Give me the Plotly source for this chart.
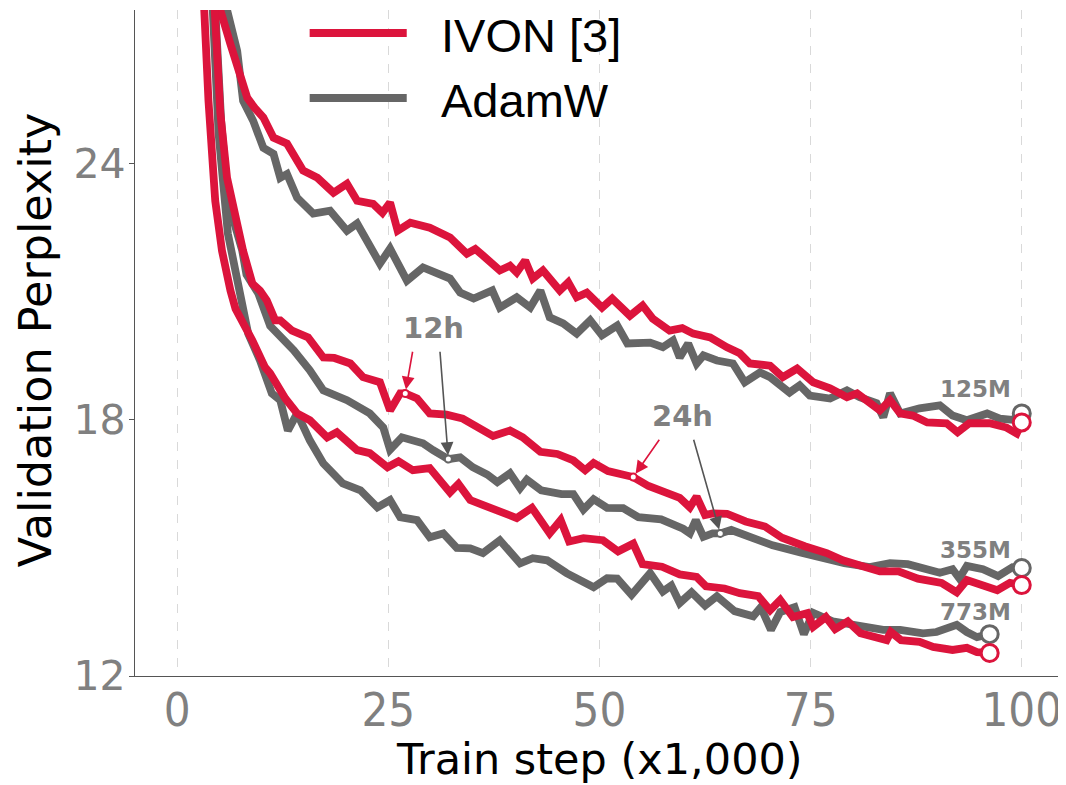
import plotly.graph_objects as go

# ---------------- data ----------------
ivon_125_x = [4.2, 5.1, 6.3, 7.5, 8.3, 9.2, 10.2, 11.4, 13.0, 14.9, 16.6, 18.5, 20.1, 21.3, 23.2, 24.3, 25.2, 26.1,
              27.6, 29.9, 31.5, 32.3, 34.3, 35.3, 36.2, 38.2, 39.4, 40.2, 41.2, 42.1, 43.3, 45.3, 46.3, 47.3, 48.5,
              50.3, 51.5, 53.6, 55.1, 56.3, 58.3, 59.8, 61.1, 63.1, 65.1, 66.6, 67.8, 70.2, 71.7, 73.4, 75.3, 77.3,
              79.3, 80.5, 83.2, 84.4, 85.6, 87.1, 88.8, 91.1, 92.4, 93.8, 96.2, 98.2, 99.4, 100]
ivon_125_y = [30.0, 27.6, 26.8, 26.0, 25.54, 25.3, 25.08, 24.61, 24.47, 23.84, 23.67, 23.32, 23.53, 23.13, 23.06, 22.85,
              23.09, 22.43, 22.62, 22.50, 22.36, 22.27, 21.89, 22.0, 21.85, 21.5, 21.61, 21.45, 21.73, 21.31, 21.5,
              21.03, 21.22, 20.87, 20.98, 20.63, 20.84, 20.44, 20.68, 20.37, 20.09, 20.15, 20.02, 19.93, 19.70, 19.56,
              19.32, 19.27, 19.0, 19.2, 18.88, 18.74, 18.53, 18.62, 18.22, 18.46, 18.15, 18.1, 17.94, 17.92, 17.71,
              17.92, 17.92, 17.82, 17.68, 17.94]

adamw_125_x = [5.0, 5.9, 7.1, 7.8, 9.0, 10.2, 11.4, 12.2, 13.0, 14.2, 16.1, 18.1, 20.1, 21.3, 24.0, 25.2, 27.2, 29.1,
               30.8, 32.3, 33.5, 35.1, 37.3, 38.2, 40.2, 41.8, 43.0, 44.1, 45.7, 47.3, 48.9, 50.3, 52.1, 53.3, 56.0,
               57.5, 58.7, 59.5, 60.5, 61.5, 62.3, 63.9, 65.8, 67.2, 69.0, 70.2, 72.5, 73.7, 74.9, 77.3, 79.3, 80.8,
               82.8, 83.6, 84.4, 85.6, 87.9, 90.3, 91.8, 93.5, 95.9, 97.4, 98.9, 100]
adamw_125_y = [30.0, 27.6, 26.64, 25.47, 25.0, 24.37, 24.23, 23.67, 23.76, 23.2, 22.83, 22.9, 22.43, 22.6, 21.66, 22.01,
               21.26, 21.57, 21.43, 21.31, 20.98, 20.84, 21.03, 20.63, 20.87, 20.63, 21.03, 20.40, 20.26, 20.02, 20.33,
               19.98, 20.21, 19.79, 19.81, 19.70, 19.86, 19.46, 19.79, 19.32, 19.51, 19.39, 19.32, 18.88, 19.11, 19.0,
               18.64, 18.81, 18.57, 18.50, 18.69, 18.53, 18.39, 18.06, 18.62, 18.15, 18.27, 18.34, 18.1, 17.99, 18.15,
               18.03, 18.0, 18.15]

ivon_355_x = [3.5, 4.4, 5.1, 5.9, 7.2, 7.8, 8.9, 9.8, 10.6, 11.6, 12.2, 13.6, 15.5, 17.3, 18.6, 20.5, 22.0, 24.0, 25.2,
              26.4, 27.0, 28.4, 29.9, 31.9, 33.8, 35.5, 37.4, 39.4, 40.9, 43.0, 45.0, 46.9, 48.3, 49.3, 51.0, 54.0,
              55.8, 57.8, 59.5, 60.7, 61.5, 62.5, 63.4, 65.1, 67.3, 69.6, 71.6, 74.3, 76.9, 78.8, 81.2, 83.2, 85.4,
              87.7, 90.5, 92.3, 93.5, 95.5, 97.1, 98.6, 100]
ivon_355_y = [31.0, 27.6, 25.2, 23.67, 22.36, 21.96, 21.19, 21.03, 20.8, 20.33, 20.33, 20.09, 19.93, 19.46, 19.45, 19.32,
              19.0, 18.88, 18.22, 18.62, 18.62, 18.5, 18.15, 18.12, 18.03, 17.82, 17.62, 17.75, 17.59, 17.25, 17.2,
              17.05, 16.82, 16.99, 16.8, 16.66, 16.45, 16.3, 16.17, 15.95, 16.2, 15.77, 15.81, 15.8, 15.62, 15.5,
              15.24, 15.04, 14.88, 14.71, 14.55, 14.45, 14.45, 14.28, 14.18, 13.96, 14.25, 14.12, 14.01, 14.18, 14.13]

adamw_355_x = [3.6, 4.5, 5.2, 6.0, 7.7, 8.2, 9.6, 11.0, 12.8, 13.8, 15.7, 17.3, 20.1, 22.8, 24.4, 25.2, 26.6, 28.1,
               29.1, 30.3, 32.1, 33.5, 35.0, 36.7, 37.9, 39.4, 40.6, 41.4, 43.1, 45.5, 46.9, 48.1, 49.3, 50.9, 52.8,
               54.6, 57.3, 59.9, 60.7, 61.4, 62.3, 63.4, 64.3, 65.6, 67.8, 70.5, 73.9, 76.5, 79.0, 82.0, 84.4, 86.5,
               88.3, 90.3, 91.8, 92.6, 93.5, 95.4, 97.2, 98.9, 100]
adamw_355_y = [31.0, 27.6, 25.0, 23.13, 21.96, 21.4, 20.96, 20.2, 19.86, 19.63, 19.16, 18.69, 18.46, 18.15, 17.82, 17.3,
               17.59, 17.5, 17.45, 17.29, 17.08, 17.12, 16.89, 16.72, 16.54, 16.75, 16.4, 16.6, 16.35, 16.26, 16.26,
               15.9, 16.14, 15.94, 15.93, 15.72, 15.67, 15.45, 15.34, 15.65, 15.26, 15.34, 15.34, 15.42, 15.25, 15.06,
               14.89, 14.77, 14.64, 14.55, 14.64, 14.62, 14.52, 14.42, 14.5, 14.29, 14.58, 14.5, 14.34, 14.55, 14.53]

ivon_773_x = [2.4, 3.1, 3.7, 4.5, 5.3, 6.3, 6.9, 8.9, 10.4, 11.0, 12.8, 14.2, 15.7, 17.75, 18.9, 21.3, 22.8, 24.9, 26.2,
              27.9, 29.9, 32.3, 33.3, 34.7, 36.2, 37.8, 40.2, 42.0, 44.1, 45.4, 46.4, 48.1, 50.4, 52.2, 54.0, 55.1,
              57.4, 59.5, 61.5, 62.6, 64.8, 66.6, 68.8, 70.2, 71.4, 72.9, 74.6, 75.3, 76.8, 77.9, 79.4, 80.9, 82.8,
              84.0, 84.5, 85.7, 87.9, 89.5, 91.8, 93.5, 94.7, 96.2]
ivon_773_y = [31.0, 27.6, 25.47, 23.13, 21.96, 21.03, 20.6, 19.86, 19.23, 19.09, 18.5, 18.15, 17.99, 17.59, 17.71, 17.29,
              17.22, 16.89, 17.03, 16.82, 16.87, 16.3, 16.5, 16.12, 16.0, 15.9, 15.7, 15.94, 15.34, 15.65, 15.15, 15.23,
              15.18, 14.92, 15.1, 14.62, 14.56, 14.38, 14.32, 14.1, 14.05, 13.94, 13.87, 13.54, 13.78, 13.38, 13.47,
              13.15, 13.38, 13.1, 13.28, 13.0, 12.91, 12.84, 13.03, 12.84, 12.8, 12.68, 12.61, 12.66, 12.56, 12.54]

adamw_773_x = [3.4, 4.2, 4.9, 6.0, 7.5, 8.4, 9.8, 11.2, 12.2, 13.1, 14.2, 15.7, 17.3, 19.6, 21.7, 23.7, 25.2, 26.4, 28.4,
               29.9, 31.5, 33.1, 34.7, 36.2, 38.2, 40.6, 42.1, 43.8, 46.1, 49.3, 50.9, 52.1, 53.8, 56.0, 57.5, 58.5,
               59.5, 60.9, 62.5, 63.9, 66.0, 68.2, 69.1, 70.3, 71.4, 73.1, 74.2, 75.3, 77.6, 81.2, 83.6, 85.6, 88.3,
               89.9, 92.3, 93.5, 94.7, 96.2]
adamw_773_y = [31.0, 27.6, 24.7, 22.36, 20.96, 20.02, 19.39, 18.62, 18.46, 17.75, 18.15, 17.52, 16.98, 16.51, 16.35,
               15.95, 16.12, 15.72, 15.65, 15.25, 15.34, 15.0, 14.99, 14.88, 15.18, 14.64, 14.76, 14.71, 14.41, 14.08,
               14.29, 14.28, 13.9, 14.41, 13.98, 14.12, 13.71, 13.96, 13.65, 13.87, 13.52, 13.4, 13.61, 13.08, 13.5,
               13.61, 12.98, 13.48, 13.28, 13.17, 13.08, 13.08, 13.0, 13.03, 13.2, 13.03, 12.91, 12.98]

model_labels = ["125M", "355M", "773M"]
x_ticks = [0, 25, 50, 75, 100]
y_ticks = [12, 18, 24]
# training steps (x1,000) reached after 12h / 24h of wall-clock time on the 355M model
time_marks = {"12h": {"ivon": 27.0, "adamw": 32.1}, "24h": {"ivon": 54.0, "adamw": 64.3}}

RED = "#DC143C"
GRAY = "#666666"
LABEL_GRAY = "#808080"
FONT = "DejaVu Sans"

series = {
    "adamw": [(adamw_125_x, adamw_125_y), (adamw_355_x, adamw_355_y), (adamw_773_x, adamw_773_y)],
    "ivon": [(ivon_125_x, ivon_125_y), (ivon_355_x, ivon_355_y), (ivon_773_x, ivon_773_y)],
}
colors = {"adamw": GRAY, "ivon": RED}

fig = go.Figure()

# lines (AdamW below, IVON on top)
for key in ["adamw", "ivon"]:
    for xs, ys in series[key]:
        fig.add_trace(go.Scatter(x=xs, y=ys, mode="lines",
                                 line=dict(color=colors[key], width=7.8),
                                 showlegend=False, hoverinfo="skip"))
# end-of-run open circles
for key in ["adamw", "ivon"]:
    for xs, ys in series[key]:
        fig.add_trace(go.Scatter(x=[xs[-1]], y=[ys[-1]], mode="markers",
                                 marker=dict(size=17, color="white", line=dict(color=colors[key], width=3)),
                                 showlegend=False, hoverinfo="skip", cliponaxis=False))

# 12h / 24h markers on the 355M curves
for label, pts in time_marks.items():
    for key in ["adamw", "ivon"]:
        xs, ys = series[key][1]
        i = xs.index(pts[key])
        fig.add_trace(go.Scatter(x=[xs[i]], y=[ys[i]], mode="markers",
                                 marker=dict(size=7, color="white", line=dict(color=colors[key], width=2)),
                                 showlegend=False, hoverinfo="skip"))

annotations = []
# time labels + arrows
time_text_pos = {"12h": (30.4, 20.15), "24h": (59.8, 18.1)}
tail_offsets = {"12h": {"ivon": (27.9, 19.63), "adamw": (31.1, 19.63)},
                "24h": {"ivon": (57.2, 17.57), "adamw": (61.1, 17.57)}}
for label, pts in time_marks.items():
    tx, ty = time_text_pos[label]
    annotations.append(dict(x=tx, y=ty, xref="x", yref="y", text=f"<b>{label}</b>", showarrow=False,
                            font=dict(family=FONT, size=29, color=LABEL_GRAY)))
    for key in ["ivon", "adamw"]:
        xs, ys = series[key][1]
        i = xs.index(pts[key])
        ax, ay = tail_offsets[label][key]
        annotations.append(dict(x=xs[i], y=ys[i], xref="x", yref="y", ax=ax, ay=ay, axref="x", ayref="y",
                                text="", showarrow=True, arrowhead=2, arrowsize=1.6, arrowwidth=1.6,
                                arrowcolor=colors[key] if key == "ivon" else "#555555", standoff=4))

# model size labels
label_pos = [(94.5, 18.72), (94.5, 14.95), (94.5, 13.5)]
for lab, (lx, ly) in zip(model_labels, label_pos):
    annotations.append(dict(x=lx, y=ly, xref="x", yref="y", text=f"<b>{lab}</b>", showarrow=False,
                            font=dict(family=FONT, size=23, color=LABEL_GRAY)))

# axis titles
annotations.append(dict(x=0.5, y=-0.124, xref="paper", yref="paper", text="Train step (x1,000)",
                        showarrow=False, xanchor="center", yanchor="middle",
                        font=dict(family=FONT, size=43, color="black")))
annotations.append(dict(x=-0.1075, y=0.5045, xref="paper", yref="paper", text="Validation Perplexity",
                        showarrow=False, textangle=-90, xanchor="center", yanchor="middle",
                        font=dict(family=FONT, size=44.5, color="black")))

# legend (drawn manually for long line keys)
legend_items = [("IVON [3]", RED, 0.9655), ("AdamW", GRAY, 0.868)]
shapes = []
for text, col, ly in legend_items:
    shapes.append(dict(type="line", xref="paper", yref="paper", x0=0.188, x1=0.2925, y0=ly, y1=ly,
                       line=dict(color=col, width=8)))
    annotations.append(dict(x=0.327, y=ly - 0.004, xref="paper", yref="paper", text=text, showarrow=False,
                            xanchor="left", yanchor="middle",
                            font=dict(family="Liberation Sans, Arial", size=47, color="black")))

# the page body adds an 8px offset, so the figure is 8px smaller and margins are shifted
fig.update_layout(
    width=1058, height=777,
    margin=dict(l=127, r=2, t=2, b=109),
    plot_bgcolor="white", paper_bgcolor="white",
    shapes=shapes, annotations=annotations,
    showlegend=False,
)
fig.update_xaxes(range=[-5, 105], tickvals=x_ticks, ticks="", showline=True, linecolor="#555555", linewidth=1.2,
                 showgrid=True, gridcolor="#d9d9d9", griddash="dash", gridwidth=1, zeroline=False,
                 automargin=False, ticklabelstandoff=-8,
                 tickfont=dict(family="DejaVu Sans Condensed, Liberation Sans Narrow, DejaVu Sans", size=47,
                               color=LABEL_GRAY))
fig.update_yaxes(range=[12, 27.6], tickvals=y_ticks, ticks="outside", ticklen=5, tickcolor="#555555",
                 showline=True, linecolor="#555555", linewidth=1.2, showgrid=False, zeroline=False,
                 automargin=False, ticklabelstandoff=-5,
                 tickfont=dict(family=FONT, size=41, color=LABEL_GRAY))

fig.write_html("out.html")
